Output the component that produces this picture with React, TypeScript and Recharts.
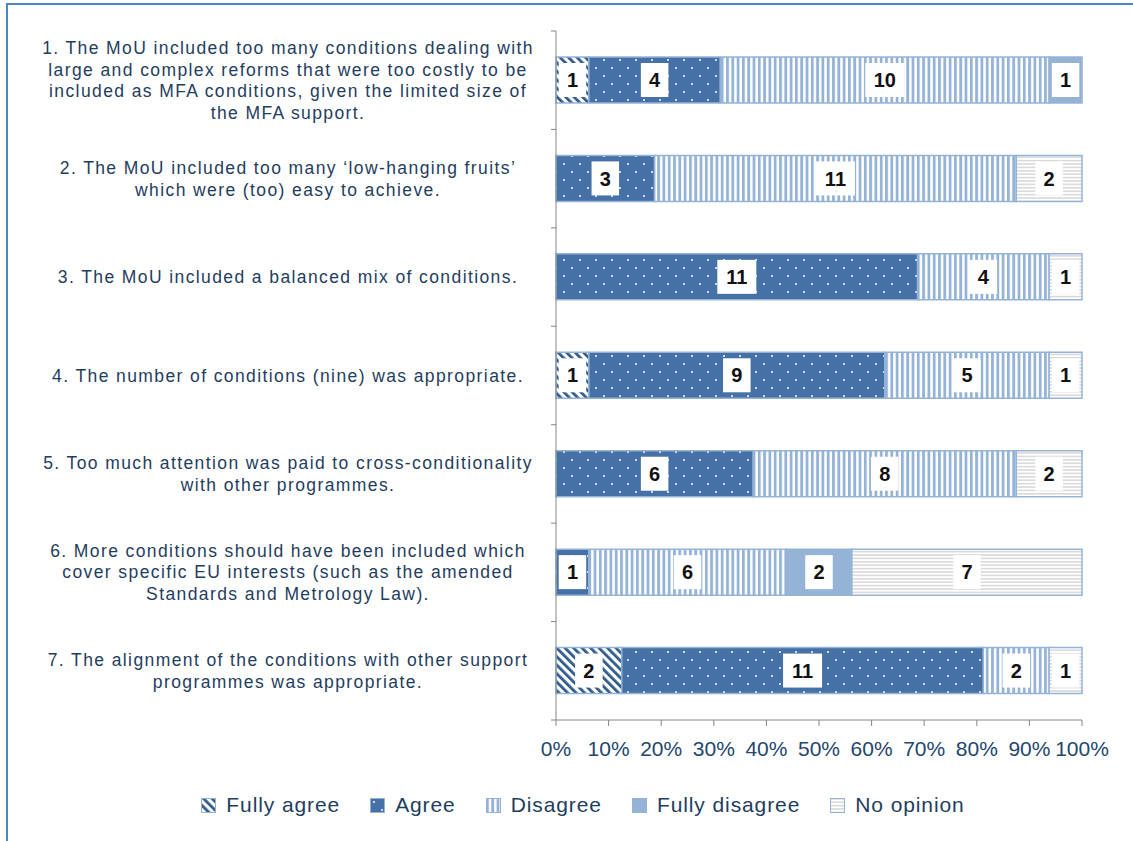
import { Bar, BarChart, LabelList, XAxis, YAxis } from 'recharts'

const statements = [
  ['1. The MoU  included too many conditions dealing with', 'large and complex reforms that were too costly to be', 'included as MFA conditions, given the limited size of', 'the MFA support.'],
  ['2. The MoU  included too many \u2018low-hanging fruits\u2019', 'which were (too) easy to achieve.'],
  ['3. The MoU  included a balanced mix of conditions.'],
  ['4. The number of conditions (nine) was appropriate.'],
  ['5. Too much attention was paid to cross-conditionality', 'with other programmes.'],
  ['6. More conditions should have been included which', 'cover specific EU interests (such as the amended', 'Standards and Metrology Law).'],
  ['7. The alignment of the conditions with other support', 'programmes was appropriate.'],
]

const fullyAgree = [1, 0, 0, 1, 0, 0, 2]
const agree = [4, 3, 11, 9, 6, 1, 11]
const disagree = [10, 11, 4, 5, 8, 6, 2]
const fullyDisagree = [1, 0, 0, 0, 0, 2, 0]
const noOpinion = [0, 2, 1, 1, 2, 7, 1]

const xTicks = [0, 0.1, 0.2, 0.3, 0.4, 0.5, 0.6, 0.7, 0.8, 0.9, 1]

const series = [
  { key: 'fullyAgree', name: 'Fully agree', fill: 'url(#p-fa)' },
  { key: 'agree', name: 'Agree', fill: 'url(#p-agree)' },
  { key: 'disagree', name: 'Disagree', fill: 'url(#p-disagree)' },
  { key: 'fullyDisagree', name: 'Fully disagree', fill: '#95b3d7' },
  { key: 'noOpinion', name: 'No opinion', fill: 'url(#p-none)' },
]

const data = statements.map((_, i) => ({
  id: String(i),
  fullyAgree: fullyAgree[i],
  agree: agree[i],
  disagree: disagree[i],
  fullyDisagree: fullyDisagree[i],
  noOpinion: noOpinion[i],
}))

const MARGIN = { top: 31, right: 51, bottom: 81, left: 0 }
const AXIS_X = 556
const BAND = (841 - MARGIN.top - MARGIN.bottom - 40) / statements.length
const TEXT_COLOR = '#1f3d5e'
const EDGE = '#95b3d7'
const FONT = "'Liberation Sans', Arial, sans-serif"

function StatementTick(props: any) {
  const { y, payload, index } = props
  const lines = statements[Number(payload.value)] ?? []
  const lineH = 21.5
  const first = y - ((lines.length - 1) * lineH) / 2
  return (
    <g>
      <line x1={AXIS_X - 5} x2={AXIS_X} y1={y - BAND / 2} y2={y - BAND / 2} stroke="#868686" />
      {index === statements.length - 1 && (
        <line x1={AXIS_X - 5} x2={AXIS_X} y1={y + BAND / 2} y2={y + BAND / 2} stroke="#868686" />
      )}
      <text x={288} y={first} textAnchor="middle" fill={TEXT_COLOR} fontSize={17.5} letterSpacing={1.4} fontFamily={FONT}>
        {lines.map((line, k) => (
          <tspan key={k} x={288} y={first + k * lineH} dy="0.35em">{line}</tspan>
        ))}
      </text>
    </g>
  )
}

function CountLabel(props: any) {
  const { x, y, width, height, value } = props
  if (!value) return null
  const text = String(value)
  const w = text.length * 11.5 + 16
  const h = 34
  const cx = x + width / 2
  const cy = y + height / 2
  return (
    <g>
      <rect x={cx - w / 2} y={cy - h / 2} width={w} height={h} fill="#ffffff" />
      <text x={cx} y={cy} dy="0.36em" textAnchor="middle" fontSize={20} fontWeight="bold" fill="#111" fontFamily={FONT}>
        {text}
      </text>
    </g>
  )
}

function Legend() {
  return (
    <div style={{ position: 'absolute', top: 793, left: 0, width: 1166, display: 'flex', justifyContent: 'center', gap: 30, fontFamily: FONT, fontSize: 21, letterSpacing: 0.9, color: TEXT_COLOR }}>
      {series.map((s) => (
        <div key={s.key} style={{ display: 'flex', alignItems: 'center', gap: 10 }}>
          <svg width={15} height={15}>
            <rect x={0.5} y={0.5} width={14} height={14} fill={s.fill} stroke={EDGE} strokeWidth={1} />
          </svg>
          <span>{s.name}</span>
        </div>
      ))}
    </div>
  )
}

export default function App() {
  return (
    <div style={{ position: 'absolute', left: 0, top: 0, width: 1133, height: 841, background: '#fff', overflow: 'hidden' }}>
      <div style={{ position: 'absolute', left: 6, top: 3, width: 1140, height: 860, borderTop: '2px solid #4a86c8', borderLeft: '2px solid #4a86c8' }} />
      <BarChart
        width={1133}
        height={841}
        data={data}
        layout="vertical"
        stackOffset="expand"
        margin={MARGIN}
        style={{ position: 'absolute', left: 0, top: 0 }}
      >
        <defs>
          <pattern id="p-fa" width="6" height="6" patternUnits="userSpaceOnUse" patternTransform="rotate(-45)">
            <rect width="6" height="6" fill="#ffffff" />
            <rect width="2.8" height="6" fill="#2f5a8c" />
          </pattern>
          <pattern id="p-agree" width="16" height="16" patternUnits="userSpaceOnUse">
            <rect width="16" height="16" fill="#4571a7" />
            <circle cx="4" cy="4" r="1" fill="#ffffff" />
            <circle cx="12" cy="12" r="1" fill="#ffffff" />
          </pattern>
          <pattern id="p-disagree" width="5.3" height="6" patternUnits="userSpaceOnUse">
            <rect width="5.3" height="6" fill="#ffffff" />
            <rect width="2.8" height="6" fill="#95b3d7" />
          </pattern>
          <pattern id="p-none" width="6" height="3.4" patternUnits="userSpaceOnUse">
            <rect width="6" height="3.4" fill="#ffffff" />
            <rect width="6" height="1.6" fill="#d9d9d9" />
          </pattern>
        </defs>
        <XAxis
          type="number"
          domain={[0, 1]}
          ticks={xTicks}
          tickFormatter={(v: number) => `${Math.round(v * 100)}%`}
          axisLine={{ stroke: '#868686' }}
          tickLine={{ stroke: '#868686' }}
          tickSize={6}
          tickMargin={15}
          height={40}
          interval={0}
          tick={{ fill: '#23466d', fontSize: 21, fontFamily: FONT }}
        />
        <YAxis
          type="category"
          dataKey="id"
          width={AXIS_X}
          axisLine={{ stroke: '#868686' }}
          tickLine={false}
          interval={0}
          tick={<StatementTick />}
        />
        {series.map((s) => (
          <Bar key={s.key} dataKey={s.key} name={s.name} stackId="a" fill={s.fill} stroke={EDGE} strokeWidth={1.5} barSize={46} isAnimationActive={false}>
            <LabelList dataKey={s.key} content={<CountLabel />} />
          </Bar>
        ))}
      </BarChart>
      <Legend />
    </div>
  )
}
